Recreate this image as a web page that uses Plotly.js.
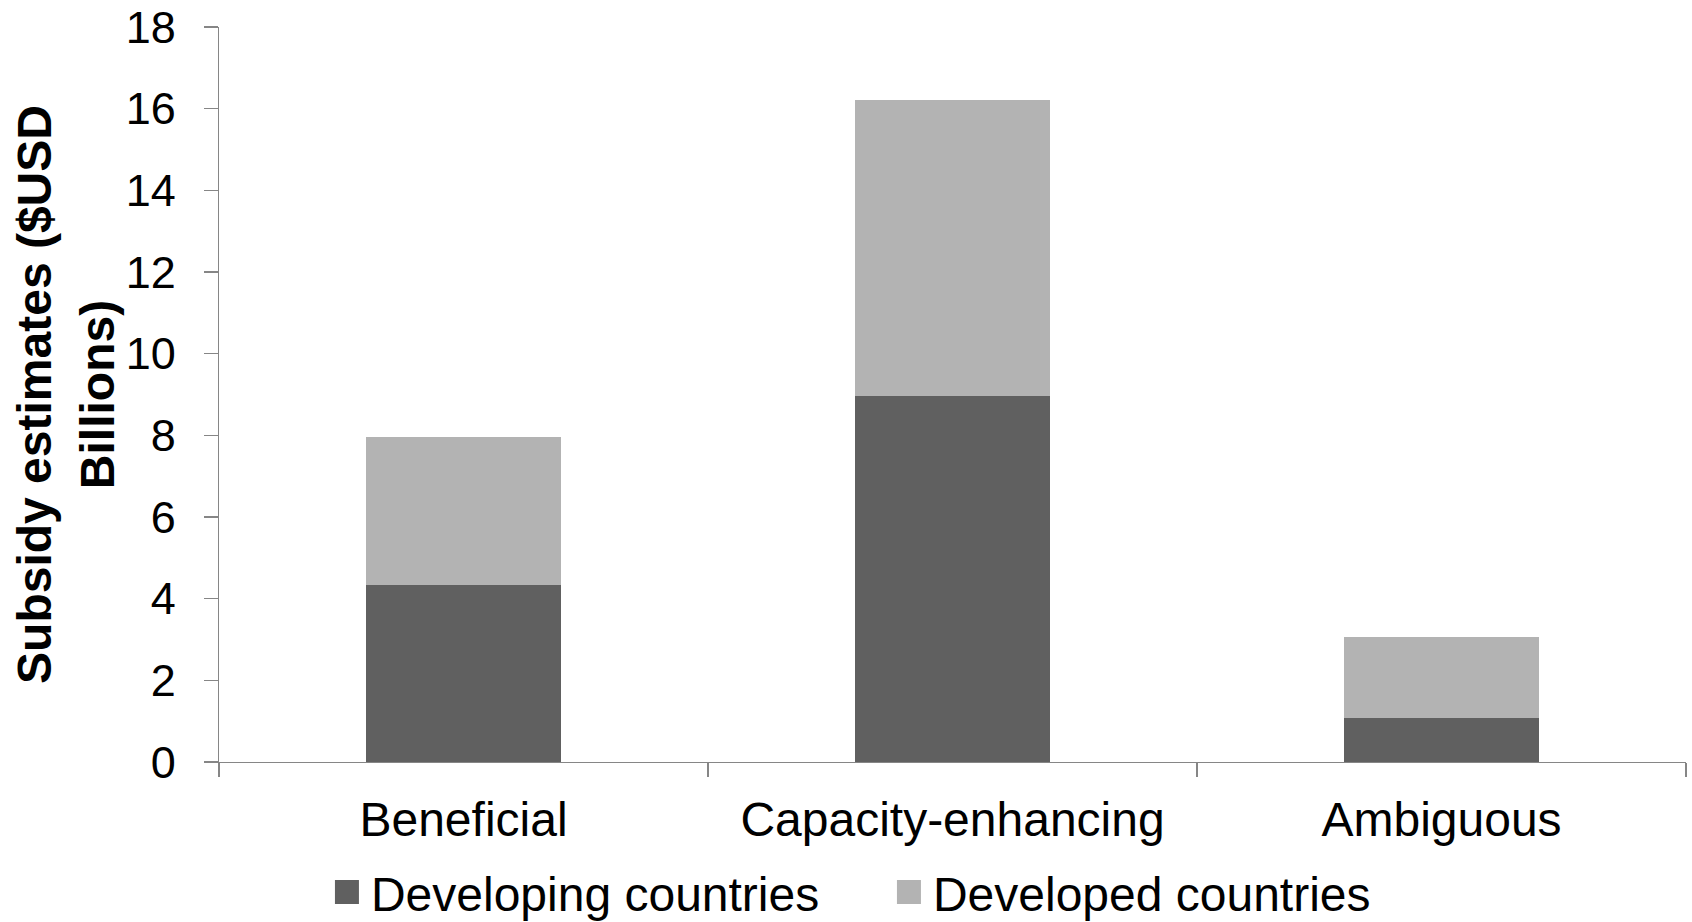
<!DOCTYPE html>
<html>
<head>
<meta charset="utf-8">
<script src="https://cdn.plot.ly/plotly-3.0.1.min.js"></script>
<style>
  html, body { margin: 0; padding: 0; background: #ffffff; }
  #chart { width: 1692px; height: 922px; }
  #chart .legend .scrollbox { clip-path: none !important; }
  #chart .legend .legendpoints path { transform: translate(16px, 0px) scale(2); }
</style>
</head>
<body>
<div id="chart"></div>
<script>
const categories = ["Beneficial", "Capacity-enhancing", "Ambiguous"];
const developingValues = [4.33, 8.96, 1.07];
const developedValues = [3.62, 7.26, 1.98];
const seriesNames = ["Developing countries", "Developed countries"];
const yTickValues = [0, 2, 4, 6, 8, 10, 12, 14, 16, 18];
const yTitle = "Subsidy estimates ($USD<br>Billions)";

const FONT = "Liberation Sans, Arial, Helvetica, sans-serif";

const traces = [
  {
    type: "bar",
    name: seriesNames[0],
    x: categories,
    y: developingValues,
    marker: { color: "#606060", line: { width: 0 } },
    hoverinfo: "x+y+name"
  },
  {
    type: "bar",
    name: seriesNames[1],
    x: categories,
    y: developedValues,
    marker: { color: "#b3b3b3", line: { width: 0 } },
    hoverinfo: "x+y+name"
  }
];

const layout = {
  width: 1692,
  height: 922,
  paper_bgcolor: "#ffffff",
  plot_bgcolor: "#ffffff",
  barmode: "stack",
  bargap: 0.6,
  margin: { l: 219, r: 6, t: 27, b: 160, pad: 0, autoexpand: false },
  font: { family: FONT, size: 48, color: "#000000" },
  showlegend: true,
  legend: {
    orientation: "h",
    xref: "paper",
    x: 0.4594,
    xanchor: "center",
    y: -0.1773,
    yanchor: "middle",
    font: { family: FONT, size: 48, color: "#000000" },
    traceorder: "normal",
    bgcolor: "rgba(0,0,0,0)",
    entrywidth: 517,
    entrywidthmode: "pixels"
  },
  xaxis: {
    type: "category",
    showgrid: false,
    zeroline: false,
    showline: true,
    linecolor: "#868686",
    linewidth: 1.3,
    ticks: "outside",
    tickson: "boundaries",
    ticklen: 14,
    tickcolor: "#868686",
    tickwidth: 1.3,
    ticklabelstandoff: 15,
    tickfont: { family: FONT, size: 48, color: "#000000" },
    automargin: false
  },
  yaxis: {
    range: [0, 18],
    tickvals: yTickValues,
    ticktext: yTickValues.map(String),
    showgrid: false,
    zeroline: false,
    showline: true,
    linecolor: "#868686",
    linewidth: 1.3,
    ticks: "outside",
    ticklen: 14,
    tickcolor: "#868686",
    tickwidth: 1.3,
    ticklabelstandoff: 19,
    tickfont: { family: FONT, size: 45, color: "#000000" },
    title: {
      text: yTitle,
      font: { family: FONT, size: 48, color: "#000000", weight: "bold" }
    },
    automargin: false
  }
};

Plotly.newPlot("chart", traces, layout, { displayModeBar: false, staticPlot: true });
</script>
</body>
</html>
